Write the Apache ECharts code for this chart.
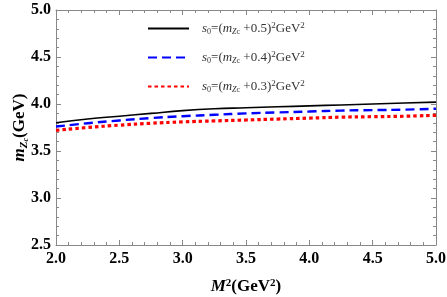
<!DOCTYPE html>
<html><head><meta charset="utf-8">
<script src="https://cdn.jsdelivr.net/npm/echarts@6/dist/echarts.min.js"></script>
<style>html,body{margin:0;padding:0;background:#fff}#c{width:447px;height:297px}</style>
</head><body><div id="c"></div>
<script>
const xVals = [2.0,2.25,2.5,2.75,3.0,3.25,3.5,3.75,4.0,4.25,4.5,4.75,5.0];
const s05 = [3.80,3.84,3.87,3.90,3.93,3.95,3.96,3.97,3.98,3.99,4.00,4.01,4.02];
const s04 = [3.76,3.795,3.825,3.85,3.87,3.885,3.90,3.91,3.92,3.93,3.935,3.94,3.95];
const s03 = [3.72,3.75,3.775,3.795,3.81,3.82,3.83,3.84,3.85,3.86,3.865,3.87,3.88];
const legendNames = ['s05','s04','s03'];
const legendOffsets = ['+0.5','+0.4','+0.3'];

const F = '"Liberation Serif","Times New Roman",serif';
const pair = a => xVals.map((x,i)=>[x,a[i]]);
const chart = echarts.init(document.getElementById('c'));
const axisCol = '#888';
const rich = {
  i:{fontFamily:F,fontStyle:'italic',fontSize:13,color:'#333'},
  n:{fontFamily:F,fontSize:13,color:'#333'},
  sub:{fontFamily:F,fontSize:8,color:'#333',verticalAlign:'bottom',padding:[6,0,0,0]},
  subi:{fontFamily:F,fontStyle:'italic',fontSize:8,color:'#333',verticalAlign:'bottom',padding:[6,0,0,0]},
  sup:{fontFamily:F,fontSize:9,color:'#333',verticalAlign:'top',padding:[0,0,6,0]}
};
const series = [
  {name:legendNames[0],data:pair(s05),lineStyle:{color:'#000',width:1.6,type:'solid'}},
  {name:legendNames[1],data:pair(s04),lineStyle:{color:'#0000ff',width:2.4,type:[9,5]}},
  {name:legendNames[2],data:pair(s03),lineStyle:{color:'#ff0000',width:3.2,type:[3.5,3]}}
].map(s=>Object.assign({type:'line',smooth:true,showSymbol:false,itemStyle:{color:s.lineStyle.color},xAxisIndex:0,yAxisIndex:0},s));

const tickCommon = {show:true,inside:true,length:5,lineStyle:{color:axisCol,width:1}};
const minorCommon = {show:true,splitNumber:5,length:3,lineStyle:{color:axisCol,width:1}};
chart.setOption({
  animation:false,
  grid:{left:56,right:11,top:10,bottom:52,outerBoundsMode:'none',containLabel:false},
  legend:{
    left:142,top:16,orient:'vertical',itemGap:14,itemWidth:41,itemHeight:14,
    data:legendNames,
    itemStyle:{opacity:0},
    formatter:function(name){
      const k = legendNames.indexOf(name);
      return '{i|s}{sub|0}{n|=(}{i|m}{subi|Z}{sub|c}{n| '+legendOffsets[k]+')}{sup|2}{n|GeV}{sup|2}';
    },
    textStyle:{rich:rich,padding:[0,0,0,8]}
  },
  xAxis:[{
    type:'value',min:2,max:5,interval:0.5,
    axisLine:{lineStyle:{color:axisCol}},
    axisTick:tickCommon,minorTick:minorCommon,splitLine:{show:false},
    axisLabel:{fontFamily:F,fontWeight:'bold',fontSize:16,color:'#000',margin:6,formatter:v=>v.toFixed(1)},
    name:'{mi|M}{sp|2}{b|(GeV}{sp|2}{b|)}',nameLocation:'middle',nameGap:33,nameMoveOverlap:false,
    nameTextStyle:{rich:{
      mi:{fontFamily:F,fontStyle:'italic',fontWeight:'bold',fontSize:17,color:'#000'},
      b:{fontFamily:F,fontWeight:'bold',fontSize:17,color:'#000'},
      sp:{fontFamily:F,fontWeight:'bold',fontSize:11,color:'#000',verticalAlign:'top',padding:[0,0,7,0]}
    }}
  },{
    type:'value',min:2,max:5,interval:0.5,position:'top',
    axisLine:{show:true,lineStyle:{color:axisCol}},
    axisTick:tickCommon,minorTick:minorCommon,axisLabel:{show:false},splitLine:{show:false}
  }],
  yAxis:[{
    type:'value',min:2.5,max:5,interval:0.5,
    axisLine:{show:true,lineStyle:{color:axisCol}},
    axisTick:tickCommon,minorTick:minorCommon,splitLine:{show:false},
    axisLabel:{fontFamily:F,fontWeight:'bold',fontSize:16,color:'#000',margin:5,formatter:v=>v.toFixed(1)},
    name:'{mi|m}{sb|Z}{sc|c}{b|(GeV)}',nameLocation:'middle',nameGap:26,nameRotate:90,nameMoveOverlap:false,
    nameTextStyle:{rich:{
      mi:{fontFamily:F,fontStyle:'italic',fontWeight:'bold',fontSize:17,color:'#000'},
      b:{fontFamily:F,fontWeight:'bold',fontSize:17,color:'#000'},
      sb:{fontFamily:F,fontStyle:'italic',fontWeight:'bold',fontSize:11,color:'#000',verticalAlign:'bottom',padding:[8,0,0,0]},
      sc:{fontFamily:F,fontStyle:'italic',fontWeight:'bold',fontSize:8,color:'#000',verticalAlign:'bottom',padding:[12,0,0,0]}
    }}
  },{
    type:'value',min:2.5,max:5,interval:0.5,position:'right',
    axisLine:{show:true,lineStyle:{color:axisCol}},
    axisTick:tickCommon,minorTick:minorCommon,axisLabel:{show:false},splitLine:{show:false}
  }],
  series:series
});
</script></body></html>
